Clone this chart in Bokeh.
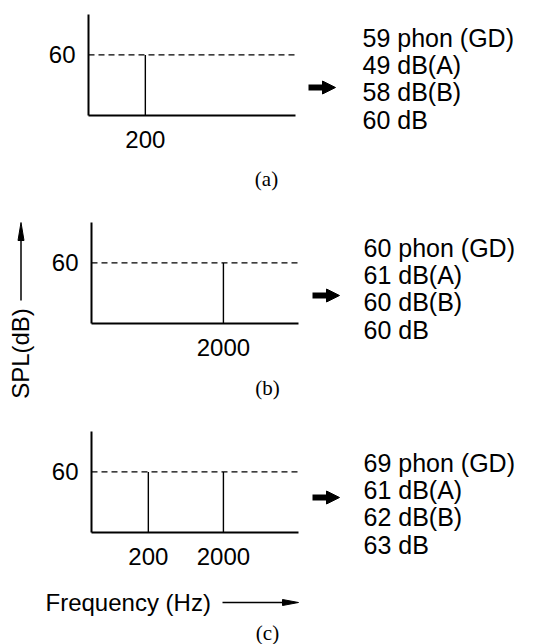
import math
from bokeh.plotting import figure
from bokeh.models import (Range1d, LinearScale, LogScale, LinearAxis, LogAxis,
                          FixedTicker)
from bokeh.embed import file_html
from bokeh.resources import INLINE
from bokeh.core.properties import value

# ---------------- data ----------------
captions = ["(a)", "(b)", "(c)"]
freqs_a = [200]
freqs_b = [2000]
freqs_c = [200, 2000]
levels_a = [60]
levels_b = [60]
levels_c = [60, 60]
tick_labels_a = ["200"]
tick_labels_b = ["2000"]
tick_labels_c = ["200", "2000"]
reference_level = 60
results_a = ["59 phon (GD)", "49 dB(A)", "58 dB(B)", "60 dB"]
results_b = ["60 phon (GD)", "61 dB(A)", "60 dB(B)", "60 dB"]
results_c = ["69 phon (GD)", "61 dB(A)", "62 dB(B)", "63 dB"]
x_title = "Frequency (Hz)"
y_title = "SPL(dB)"
freq_limits = (35, 20000)
spl_limits = (0, 100)

# ---------------- layout (pixels) ----------------
W, H = 553, 644
SANS = "Liberation Sans"
SERIF = "Liberation Serif"

p = figure(width=W, height=H, x_range=Range1d(0, W), y_range=Range1d(H, 0),
           x_axis_location=None, y_axis_location=None,
           output_backend="svg", toolbar_location=None, min_border=0)
p.outline_line_color = None
p.grid.visible = False
p.background_fill_color = "white"
p.border_fill_color = "white"


def add_arrow_head(tip_x, tip_y, dx, dy, length, half_w):
    # triangle pointing along (dx, dy)
    bx, by = tip_x - dx * length, tip_y - dy * length
    px, py = -dy * half_w, dx * half_w
    p.patch(x=[tip_x, bx + px, bx - px], y=[tip_y, by + py, by - py],
            fill_color="black", line_color="black", line_width=1)


def panel(name, freqs, levels, tick_labels, results, caption, box, text_pos,
          arrow_pos, caption_pos):
    L, R, T, B = box
    f0, f1 = freq_limits
    s0, s1 = spl_limits
    dpp = math.log10(f1 / f0) / (R - L)
    lo = 10 ** (math.log10(f0) - L * dpp)
    hi = 10 ** (math.log10(f1) + (W - R) * dpp)
    k = (s1 - s0) / (B - T)
    ys = s0 - (H - B) * k
    ye = s1 + T * k
    xr, yr = "f" + name, "s" + name
    p.extra_x_ranges[xr] = Range1d(lo, hi)
    p.extra_x_scales[xr] = LogScale()
    p.extra_y_ranges[yr] = Range1d(ys, ye)
    p.extra_y_scales[yr] = LinearScale()

    xa = LogAxis(x_range_name=xr, y_range_name=yr, fixed_location=s0,
                 bounds=freq_limits, ticker=FixedTicker(ticks=freqs))
    xa.major_label_overrides = {f: t for f, t in zip(freqs, tick_labels)}
    ya = LinearAxis(x_range_name=xr, y_range_name=yr, fixed_location=f0,
                    bounds=spl_limits, ticker=FixedTicker(ticks=[reference_level]))
    ya.major_label_overrides = {reference_level: str(reference_level)}
    for ax, so in ((xa, 15), (ya, 13)):
        ax.axis_line_color = "black"
        ax.axis_line_width = 2
        ax.major_tick_line_color = None
        ax.minor_tick_line_color = None
        ax.major_tick_out = 0
        ax.major_tick_in = 0
        ax.major_label_text_font = SANS
        ax.major_label_text_font_size = "24px"
        ax.major_label_text_color = "black"
        ax.major_label_standoff = so
    p.add_layout(xa, "below")
    p.add_layout(ya, "left")

    # reference level (dashed) and spectral lines
    p.segment(x0=[f0], y0=[reference_level], x1=[f1], y1=[reference_level],
              line_color="black", line_width=1.3, line_dash="6 4",
              x_range_name=xr, y_range_name=yr)
    p.segment(x0=freqs, y0=[s0] * len(freqs), x1=freqs, y1=levels,
              line_color="black", line_width=1.4,
              x_range_name=xr, y_range_name=yr)

    # fat arrow
    ax0, ay = arrow_pos
    p.segment(x0=[ax0], y0=[ay], x1=[ax0 + 15], y1=[ay], line_color="black",
              line_width=6, line_cap="butt")
    add_arrow_head(ax0 + 27, ay, 1, 0, 13, 6.5)

    # results list
    tx, ty = text_pos
    p.text(x=[tx] * len(results), y=[ty + i * 27.4 for i in range(len(results))],
           text=results, text_font=value(SANS), text_font_size="25px",
           text_align="left", text_baseline="middle", text_color="black")
    cx, cy = caption_pos
    p.text(x=[cx], y=[cy], text=[caption], text_font=value(SERIF),
           text_font_size="21px", text_align="center", text_baseline="middle",
           text_color="black")


panel("a", freqs_a, levels_a, tick_labels_a, results_a, captions[0],
      (88, 295, 14, 115), (362, 37), (308, 87), (266, 178))
panel("b", freqs_b, levels_b, tick_labels_b, results_b, captions[1],
      (91, 298, 222, 323), (363, 247), (312, 295), (267, 387))
panel("c", freqs_c, levels_c, tick_labels_c, results_c, captions[2],
      (91, 298, 431, 532), (363, 462), (312, 497), (267, 632))

# y title with upward arrow
p.text(x=[20], y=[353], text=[y_title], angle=math.pi / 2,
       text_font=value(SANS), text_font_size="24px",
       text_align="center", text_baseline="middle", text_color="black")
p.segment(x0=[20.5], y0=[300], x1=[20.5], y1=[236], line_color="black",
          line_width=1.5)
add_arrow_head(20.5, 222, 0, -1, 18, 3)

# x title with rightward arrow
p.text(x=[45], y=[602], text=[x_title], text_font=value(SANS),
       text_font_size="24px", text_align="left", text_baseline="middle",
       text_color="black")
p.segment(x0=[222], y0=[602], x1=[285], y1=[602], line_color="black",
          line_width=1.5)
add_arrow_head(298, 602, 1, 0, 16, 3)

open("out.html", "w").write(file_html(p, INLINE))
